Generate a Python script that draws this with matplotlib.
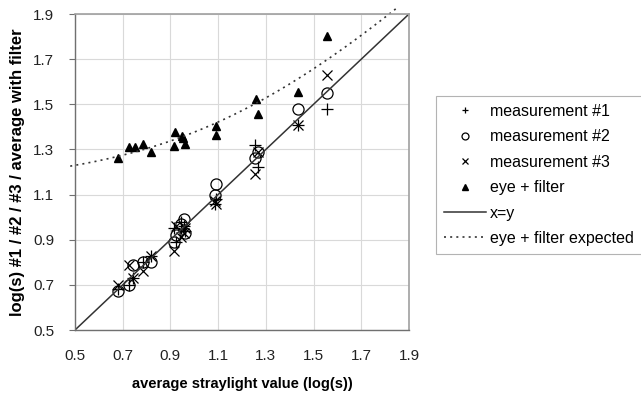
import numpy as np
import matplotlib
matplotlib.use("Agg")
import matplotlib.pyplot as plt

plt.rcParams['font.family'] = ['Liberation Sans', 'DejaVu Sans']

# average straylight value (log(s)) per subject
avg_logs = [0.68, 0.725, 0.745, 0.785, 0.82,
            0.915, 0.925, 0.945, 0.955, 0.962,
            1.09, 1.088, 1.255, 1.268, 1.435, 1.555]

meas1 = [0.68, 0.70, 0.73, 0.80, 0.83,
         0.95, 0.89, 0.98, 0.96, 0.94,
         1.08, 1.06, 1.32, 1.22, 1.41, 1.48]
meas2 = [0.675, 0.70, 0.79, 0.80, 0.80,
         0.89, 0.92, 0.97, 0.99, 0.93,
         1.145, 1.10, 1.26, 1.29, 1.48, 1.55]
meas3 = [0.70, 0.79, 0.73, 0.76, 0.83,
         0.85, 0.96, 0.91, 0.93, 0.95,
         1.06, 1.07, 1.19, 1.29, 1.41, 1.63]

# eye + filter measurements
filt_x = [0.68, 0.728, 0.75, 0.786, 0.817,
          0.92, 0.916, 0.948, 0.951, 0.961,
          1.09, 1.09, 1.259, 1.268, 1.435, 1.555]
filt_y = [1.26, 1.31, 1.31, 1.325, 1.29,
          1.376, 1.317, 1.36, 1.35, 1.325,
          1.405, 1.366, 1.523, 1.457, 1.553, 1.803]

# straylight of the filter alone (log(s)); expected = log10(s_eye + s_filter)
filter_log = 1.14

ticks = [0.5, 0.7, 0.9, 1.1, 1.3, 1.5, 1.7, 1.9]

fig = plt.figure(figsize=(6.41, 3.97), dpi=100)
ax = fig.add_axes([75/641, 1 - 330/397, 334/641, 316/397])

ax.set_xlim(0.5, 1.9)
ax.set_ylim(0.5, 1.9)
ax.set_xticks(ticks)
ax.set_yticks(ticks)
ax.set_xticklabels([f"{t:.1f}" for t in ticks])
ax.set_yticklabels([f"{t:.1f}" for t in ticks])
ax.grid(True, color='#d9d9d9', linewidth=0.8)
ax.set_axisbelow(True)
for side in ['top', 'right']:
    ax.spines[side].set_color('#a0a0a0')
    ax.spines[side].set_linewidth(1.2)
for side in ['left', 'bottom']:
    ax.spines[side].set_color('#707070')
    ax.spines[side].set_linewidth(1.0)
ax.tick_params(axis='both', labelsize=11, colors='#707070', labelcolor='#222222',
               width=0.8, direction='out')
ax.tick_params(axis='y', length=4, pad=11)
ax.tick_params(axis='x', length=0, pad=14)

mk = dict(color='black', linestyle='none')
ax.plot(avg_logs, meas1, marker='+', markersize=9, markeredgewidth=0.9,
        label='measurement #1', **mk)
ax.plot(avg_logs, meas2, marker='o', markersize=8, markerfacecolor='none',
        markeredgewidth=0.9, label='measurement #2', **mk)
ax.plot(avg_logs, meas3, marker='x', markersize=7.5, markeredgewidth=0.9,
        label='measurement #3', **mk)
ax.plot(filt_x, filt_y, marker='^', markersize=6, label='eye + filter', **mk)

xs = np.linspace(0.5, 1.9, 200)
ax.plot(xs, xs, color='#333333', linewidth=1.1, label='x=y')
xe = np.linspace(0.48, 1.85, 200)
ax.plot(xe, np.log10(10**xe + 10**filter_log), color='#333333', linewidth=1.2,
        linestyle=(0, (1.2, 2.5)), clip_on=False, label='eye + filter expected')

ax.set_xlabel('average straylight value (log(s))', fontsize=10.5,
              fontweight='bold', labelpad=10)
ax.set_ylabel('log(s) #1 / #2 / #3 / average with filter', fontsize=12,
              fontweight='bold', labelpad=6)

leg = fig.legend(loc='upper left', bbox_to_anchor=(436/641, 1 - 96/397),
                 fontsize=11.5, frameon=True, fancybox=False, edgecolor='#a0a0a0',
                 handlelength=2.6, handletextpad=0.3, labelspacing=0.65,
                 borderpad=0.5, borderaxespad=0)
leg.get_frame().set_linewidth(0.8)
for h in leg.legend_handles[:4]:
    h.set_markersize(5)

fig.savefig('out.png', dpi=100)
